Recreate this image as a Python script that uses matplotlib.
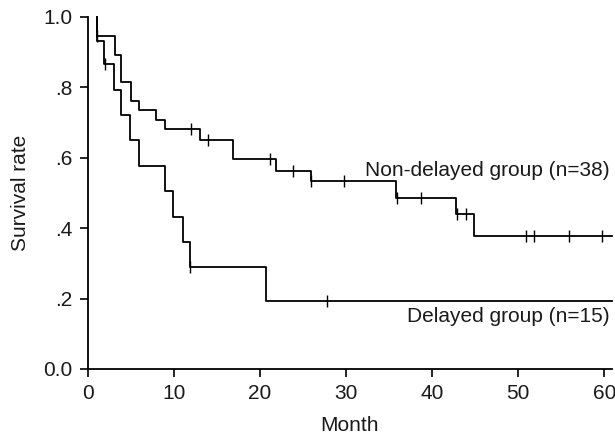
import matplotlib
matplotlib.use("Agg")
import matplotlib.pyplot as plt

plt.rcParams["font.family"] = ["Liberation Sans", "DejaVu Sans"]

# Non-delayed group (n=38)
nd_times = [1.0, 1.0, 3.1, 3.8, 5.0, 5.9, 7.9, 9.0, 13.0, 16.8, 21.9, 25.9, 35.8, 42.8, 44.9]
nd_surv = [1.0, 0.947, 0.893, 0.815, 0.762, 0.737, 0.708, 0.683, 0.650, 0.598, 0.562, 0.533, 0.486, 0.439, 0.378]
nd_cens_t = [1.0, 12.0, 14.0, 21.1, 23.8, 25.9, 29.8, 35.9, 38.7, 42.9, 43.9, 50.9, 51.8, 55.9, 59.7]

# Delayed group (n=15)
d_times = [1.0, 1.0, 1.9, 3.0, 3.8, 4.9, 5.9, 9.0, 9.9, 11.0, 11.85, 20.7]
d_surv = [1.0, 0.933, 0.867, 0.794, 0.722, 0.650, 0.578, 0.505, 0.433, 0.361, 0.289, 0.193]
d_cens_t = [2.0, 11.9, 27.8]

x_end = 60.9
xticks = [0, 10, 20, 30, 40, 50, 60]
yticks = [0.0, 0.2, 0.4, 0.6, 0.8, 1.0]
ytick_labels = ["0.0", ".2", ".4", ".6", ".8", "1.0"]

TXT = "#1a1a1a"


def surv_at(times, surv, t):
    v = surv[0]
    for ti, si in zip(times, surv):
        if ti <= t:
            v = si
    return v


fig = plt.figure(figsize=(6.15, 4.37), dpi=100)
ax = fig.add_axes([88 / 615, 1 - 369 / 437, (612 - 88) / 615, (369 - 17) / 437])

for times, surv, cens in [(nd_times, nd_surv, nd_cens_t), (d_times, d_surv, d_cens_t)]:
    xs = list(times) + [x_end]
    ys = list(surv) + [surv[-1]]
    ax.step(xs, ys, where="post", color="black", lw=1.3, clip_on=False)
    cy = [surv_at(times, surv, t) for t in cens]
    ax.plot(cens, cy, ls="none", marker="|", ms=9, mew=1.0, color="black", clip_on=False)

ax.set_xlim(0, x_end)
ax.set_ylim(0, 1.0)
ax.set_xticks(xticks)
ax.set_yticks(yticks)
ax.set_yticklabels(ytick_labels)
for s in ["top", "right"]:
    ax.spines[s].set_visible(False)
for s in ["left", "bottom"]:
    ax.spines[s].set_linewidth(1.3)
ax.tick_params(axis="both", direction="out", length=6, width=1.2, labelsize=15,
               labelcolor=TXT, pad=5)

ax.set_xlabel("Month", fontsize=15, labelpad=9, color=TXT)
ax.set_ylabel("Survival rate", fontsize=15, labelpad=10, color=TXT)

ax.text(60.6, 0.565, "Non-delayed group (n=38)", ha="right", va="center", fontsize=15, color=TXT)
ax.text(60.6, 0.148, "Delayed group (n=15)", ha="right", va="center", fontsize=15, color=TXT)

fig.savefig("out.png", dpi=100)
